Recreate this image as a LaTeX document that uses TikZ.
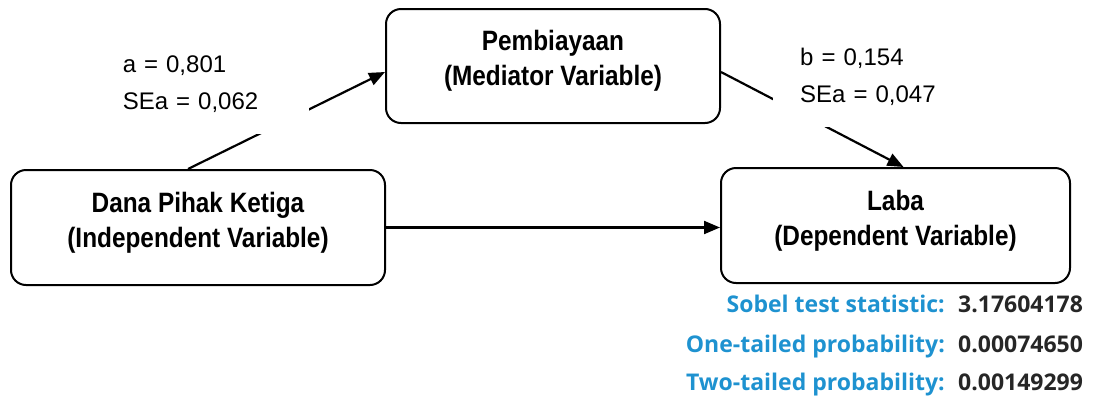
\documentclass[tikz,border=0pt]{standalone}
\usepackage{fontspec}
\setmainfont{Liberation Sans}
\newfontfamily\narrowfont[FakeStretch=0.87]{Liberation Sans}
\newfontfamily\sobelfont{Open Sans}
\usetikzlibrary{arrows.meta,positioning,calc}
\definecolor{sobelblue}{RGB}{30,146,208}

\tikzset{
    varbox/.style={draw, line width=2pt, rounded corners=15pt, align=center, text depth=16pt,
        font=\narrowfont\bfseries\fontsize{28}{35}\selectfont},
    coef/.style={fill=white, align=left, text width=159pt, inner xsep=27pt,
        inner ysep=13pt, font=\fontsize{24}{37}\selectfont},
    effect/.style={line width=2.2pt, -{Triangle[length=16pt,width=13pt]}},
    sobel/.style={font=\sobelfont\bfseries\fontsize{23}{27}\selectfont, text=sobelblue, inner sep=0pt},
    sobelval/.style={font=\sobelfont\bfseries\fontsize{23}{27}\selectfont, text=black!85, inner sep=0pt}
}

\begin{document}
\begin{tikzpicture}[x=1pt, y=-1pt]
    % fix the page
    \useasboundingbox (0,0) rectangle (1093,397);

    % the three variables
    \node[varbox, minimum width=374pt, minimum height=115pt] (dpk) at (198,227.5)
        {Dana Pihak Ketiga\\(Independent Variable)};
    \node[varbox, minimum width=334pt, minimum height=114pt] (pemb) at (553,66)
        {Pembiayaan\\(Mediator Variable)};
    \node[varbox, minimum width=349pt, minimum height=115pt] (laba) at (895.5,225.5)
        {Laba\\(Dependent Variable)};

    % paths a, b and the direct one
    \draw[effect] ([xshift=-10pt]dpk.north) -- ([yshift=-6pt]pemb.west);
    \draw[effect] ([yshift=-6pt]pemb.east) -- ([xshift=8pt]laba.north);
    \draw[effect] (dpk.east) -- (dpk.east -| laba.west);

    % coefficients (white boxes over the lines)
    \node[coef, anchor=south east] (coefA) at (309,134) {a = 0,801\\SEa = 0,062\strut};
    \node[coef, anchor=south west] (coefB) at (773,127) {b = 0,154\\SEa = 0,047\strut};

    % Sobel test results
    \foreach \row/\txt/\val/\yy in {1/Sobel test statistic:/3.17604178/312,
                                   2/One-tailed probability:/0.00074650/352,
                                   3/Two-tailed probability:/0.00149299/390} {
        \node[sobel, anchor=base east] (sobelL\row) at (945,\yy) {\txt};
        \node[sobelval, anchor=base west] (sobelV\row) at (958,\yy) {\val};
    }
\end{tikzpicture}
\end{document}
